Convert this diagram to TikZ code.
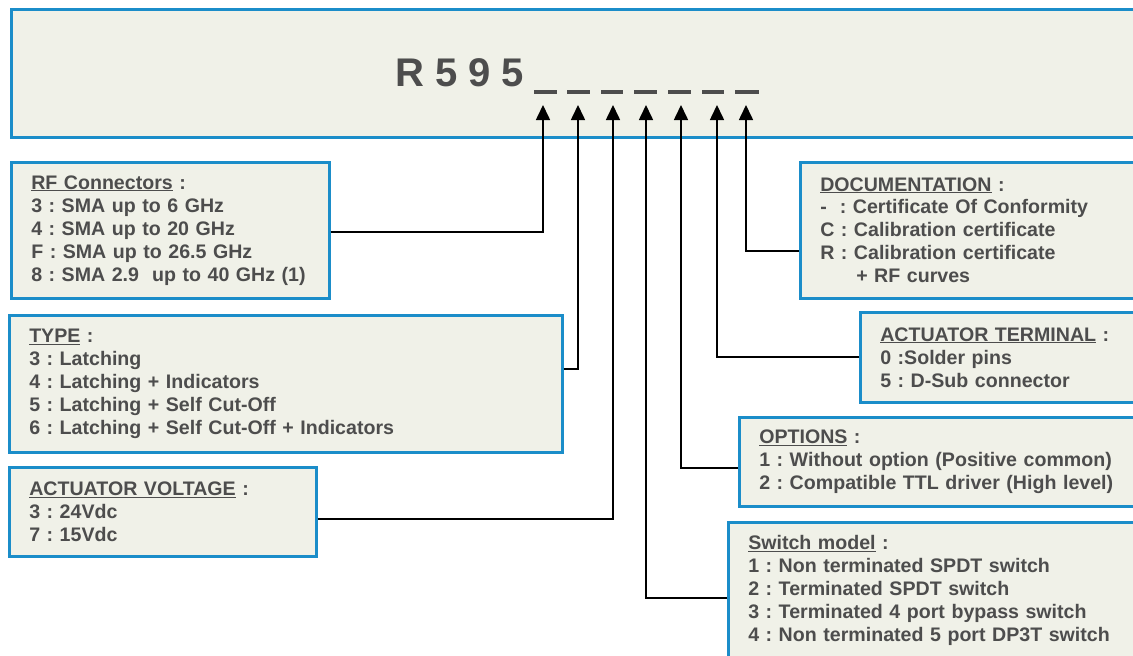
\documentclass[tikz,border=0pt]{standalone}
\usepackage{fontspec}
\setmainfont{Liberation Sans}
\usetikzlibrary{arrows.meta}
\definecolor{boxfill}{HTML}{F0F1E8}
\definecolor{boxline}{HTML}{1B8DC9}
\definecolor{txt}{HTML}{4D4D4D}

\begin{document}
\begin{tikzpicture}[x=1pt, y=-1pt,
    box/.style = {draw=boxline, fill=boxfill, line width=2.5pt, anchor=north west,
      inner xsep=20pt, inner ysep=0pt, align=left, text=txt,
      font=\fontsize{19.6}{23}\selectfont\bfseries\frenchspacing},
    arr/.style = {line width=1.6pt, -{Triangle[length=15pt,width=14pt]}},
    slot/.style = {line width=4.5pt, draw=txt}]
    \useasboundingbox (0,0) rectangle (1133,656);
    \clip (0,0) rectangle (1133,656);

    % code header
    \node[box, minimum width=1140pt, minimum height=128pt] (top) at (10,8) {};
    \node[anchor=base west, inner sep=0pt, text=txt, font=\fontsize{40}{40}\selectfont\bfseries] (code) at (395,86) {R 5 9 5};
    \draw[slot] (534,92) -- (557,92);
    \draw[slot] (567,92) -- (590,92);
    \draw[slot] (601,92) -- (623,92);
    \draw[slot] (634,92) -- (657,92);
    \draw[slot] (668,92) -- (691,92);
    \draw[slot] (702,92) -- (724,92);
    \draw[slot] (735,92) -- (759,92);

    \coordinate (a1) at (543,105);
    \coordinate (a2) at (578,105);
    \coordinate (a3) at (613,105);
    \coordinate (a4) at (646,105);
    \coordinate (a5) at (681,105);
    \coordinate (a6) at (717,105);
    \coordinate (a7) at (746,105);

    % left column
    \node[box, text width=278pt, minimum height=136pt] (rf) at (10,161)
      {\underline{RF Connectors} :\\
       3 : SMA up to 6 GHz\\
       4 : SMA up to 20 GHz\\
       F : SMA up to 26.5 GHz\\
       \mbox{8 : SMA 2.9~~up to 40 GHz (1)}};
    \node[box, text width=513pt, minimum height=137pt] (type) at (8,314)
      {\underline{TYPE} :\\
       3 : Latching\\
       4 : Latching + Indicators\\
       5 : Latching + Self Cut-Off\\
       6 : Latching + Self Cut-Off + Indicators};
    \node[box, text width=267pt, minimum height=89pt] (volt) at (8,466)
      {\underline{ACTUATOR VOLTAGE} :\\
       3 : 24Vdc\\
       7 : 15Vdc};

    % right column
    \node[box, text width=320pt, minimum height=136pt] (doc) at (799,161)
      {\underline{DOCUMENTATION} :\\
       -~~: Certificate Of Conformity\\
       C : Calibration certificate\\
       R : Calibration certificate\\
       \hspace*{36pt}+ RF curves};
    \node[box, text width=260pt, minimum height=90pt] (term) at (859,311)
      {\underline{ACTUATOR TERMINAL} :\\
       0 :Solder pins\\
       5 : D-Sub connector};
    \node[box, text width=380pt, minimum height=89pt] (opt) at (738,416)
      {\underline{OPTIONS} :\\
       1 : Without option (Positive common)\\
       2 : Compatible TTL driver (High level)};
    \node[box, text width=390pt, minimum height=137pt] (sw) at (727,521)
      {\underline{Switch model} :\\
       1 : Non terminated SPDT switch\\
       2 : Terminated SPDT switch\\
       3 : Terminated 4 port bypass switch\\
       4 : Non terminated 5 port DP3T switch};

    % connectors
    \draw[arr] ([yshift=-2pt]rf.east) -| (a1);
    \draw[arr] ([yshift=14.5pt]type.east) -| (a2);
    \draw[arr] ([yshift=-7.5pt]volt.east) -| (a3);
    \draw[arr] ([yshift=-7.5pt]sw.west) -| (a4);
    \draw[arr] ([yshift=-6.5pt]opt.west) -| (a5);
    \draw[arr] (term.west) -| (a6);
    \draw[arr] ([yshift=-21pt]doc.west) -| (a7);
\end{tikzpicture}
\end{document}
